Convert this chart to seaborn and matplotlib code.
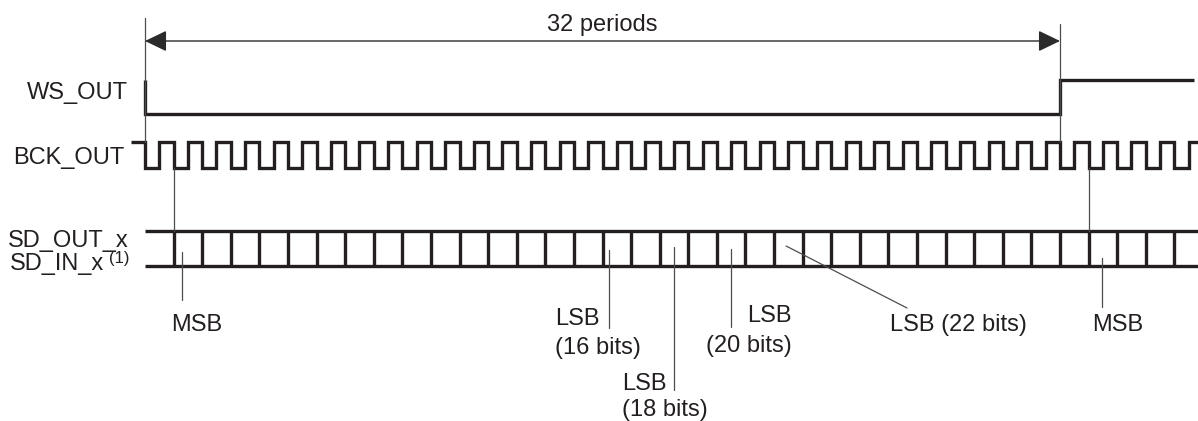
import numpy as np
import pandas as pd
import seaborn as sns
import matplotlib.pyplot as plt

sns.set_style("white")
plt.rcParams['font.family'] = ['Liberation Sans', 'DejaVu Sans']

INK = '#231f20'
THIN = '#4d4d4d'

# time is counted in BCK periods, t=0 is the WS_OUT falling edge
n_periods = 32
t_end = 36.83

# WS_OUT levels (time, level)
ws_time = [0, 0, 32, 32, 36.69]
ws_level = [1, 0, 0, 1, 1]

# BCK_OUT level for each half period, starting at t=-0.5
bck_wave = "1 01010101 01010101 01010101 01010101 01010101 01010101 01010101 01010101 01010101 01"
bck_start = -0.5

# SD bus: data changes on these BCK falling edges
sd_edges = [1, 2, 3, 4, 5, 6, 7, 8, 9, 10, 11, 12, 13, 14, 15, 16, 17, 18,
            19, 20, 21, 22, 23, 24, 25, 26, 27, 28, 29, 30, 31, 32, 33, 34, 35, 36]

# callouts: label lines, pointer time
callout_labels = ['MSB', 'LSB\n(16 bits)', 'LSB\n(18 bits)', 'LSB\n(20 bits)', 'LSB (22 bits)', 'MSB']
callout_time = [1.28, 16.23, 18.50, 20.49, 22.42, 33.46]

signal_names = ['WS_OUT', 'BCK_OUT', 'SD_OUT_x', 'SD_IN_x']

# ---- layout (pixels) ----
x0_px, period_px = 145, 28.594
def px(x):
    return (x - x0_px) / period_px

ws_low, ws_high = 114, 80
bck_low, bck_high = 168, 142
sd_top, sd_bot = 231, 266

fig = plt.figure(figsize=(11.98, 4.21), dpi=100)
ax = fig.add_axes([0, 0, 1, 1])

# WS_OUT
ws = pd.DataFrame({'t': ws_time,
                   'y': [ws_low - l * (ws_low - ws_high) for l in ws_level]})
sns.lineplot(data=ws, x='t', y='y', sort=False, estimator=None, color=INK,
             lw=2.4, ax=ax, solid_joinstyle='miter', solid_capstyle='butt')

# BCK_OUT
levels = [int(c) for c in bck_wave.replace(' ', '')]
bck_t = list(bck_start + 0.5 * np.arange(len(levels))) + [t_end]
bck_y = [bck_low - l * (bck_low - bck_high) for l in levels + [levels[-1]]]
bck = pd.DataFrame({'t': bck_t, 'y': bck_y})
sns.lineplot(data=bck, x='t', y='y', sort=False, estimator=None, color=INK,
             lw=2.4, ax=ax, drawstyle='steps-post', solid_joinstyle='miter',
             solid_capstyle='butt')

# SD bus
rows = []
for seg, yy in enumerate([sd_top, sd_bot]):
    rows += [(0, yy, seg), (t_end, yy, seg)]
for i, e in enumerate(sd_edges):
    rows += [(e, sd_top, 10 + i), (e, sd_bot, 10 + i)]
sd = pd.DataFrame(rows, columns=['t', 'y', 'seg'])
sns.lineplot(data=sd, x='t', y='y', units='seg', sort=False, estimator=None,
             color=INK, lw=2.4, ax=ax, legend=False, solid_capstyle='butt')

# thin guide / pointer lines
guides = [(0, 18, 0, bck_high), (1, bck_low, 1, sd_top),
          (32, 24, 32, bck_high), (33, bck_low, 33, sd_top),
          (callout_time[0], 252, callout_time[0], 300),
          (callout_time[1], 250, callout_time[1], 328),
          (callout_time[2], 247, callout_time[2], 390),
          (callout_time[3], 249, callout_time[3], 327),
          (callout_time[4], 246, px(907), 308),
          (callout_time[5], 258, callout_time[5], 307)]
grows = []
for i, (ta, ya, tb, yb) in enumerate(guides):
    grows += [(ta, ya, i), (tb, yb, i)]
gd = pd.DataFrame(grows, columns=['t', 'y', 'seg'])
sns.lineplot(data=gd, x='t', y='y', units='seg', sort=False, estimator=None,
             color=THIN, lw=0.9, ax=ax, legend=False)

# 32 periods arrow
ax.annotate('', xy=(0, 41), xytext=(n_periods, 41),
            arrowprops=dict(arrowstyle='<|-|>,head_length=1.35,head_width=0.65',
                            mutation_scale=10, color='#2b2b2b', lw=1.0,
                            shrinkA=0, shrinkB=0))
ax.text(n_periods / 2, 31, f'{n_periods} periods', ha='center', va='baseline',
        fontsize=17, color=INK)

# signal names
fs = 17
ax.text(px(128), 99, signal_names[0], ha='right', va='baseline', fontsize=fs, color=INK)
ax.text(px(124), 164, signal_names[1], ha='right', va='baseline', fontsize=fs, color=INK)
ax.text(px(129), 247, signal_names[2], ha='right', va='baseline', fontsize=fs, color=INK)
ax.text(px(104), 270, signal_names[3], ha='right', va='baseline', fontsize=fs, color=INK)
ax.text(px(109), 263, '(1)', ha='left', va='baseline', fontsize=12, color=INK)

# callout texts
def lbl(s, x, y, ha):
    ax.text(px(x), y, s, ha=ha, va='baseline', fontsize=fs, color=INK)

lbl(callout_labels[0], 171, 331, 'left')
l16 = callout_labels[1].split('\n')
lbl(l16[0], 555, 325, 'left'); lbl(l16[1], 555, 354, 'left')
l18 = callout_labels[2].split('\n')
lbl(l18[0], 622, 390, 'left'); lbl(l18[1], 622, 416, 'left')
l20 = callout_labels[3].split('\n')
lbl(l20[0], 792, 322, 'right'); lbl(l20[1], 792, 352, 'right')
lbl(callout_labels[4], 890, 331, 'left')
lbl(callout_labels[5], 1092, 331, 'left')

ax.set_xlim(px(0), px(1198))
ax.set_ylim(421, 0)
ax.axis('off')

fig.savefig('out.png', dpi=100)
